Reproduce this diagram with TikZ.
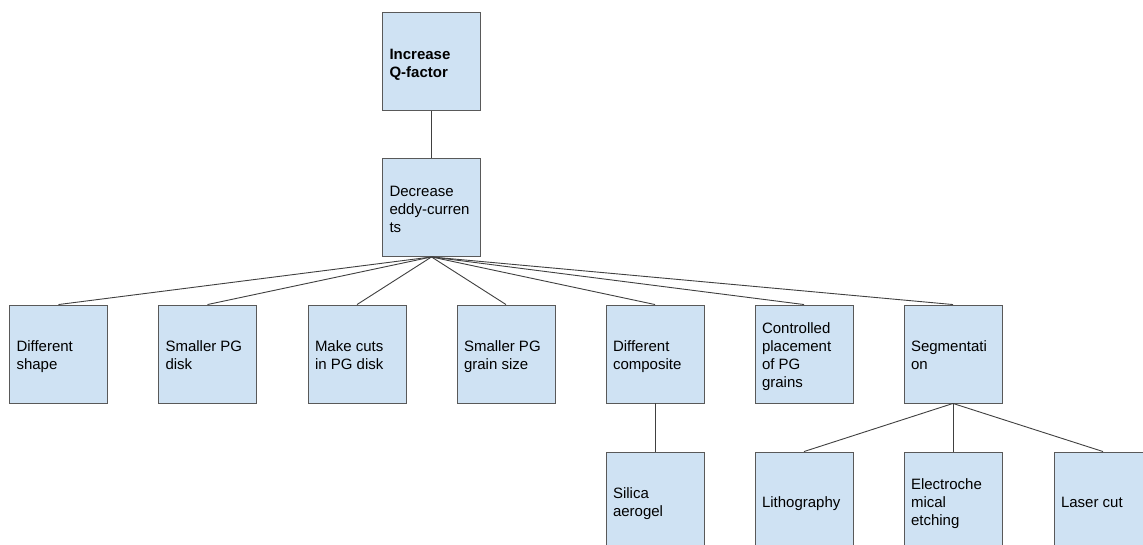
\documentclass[tikz,border=0pt]{standalone}
\usepackage{fontspec}
\setmainfont{Liberation Sans}
\definecolor{boxfill}{HTML}{CFE2F3}
\definecolor{boxline}{HTML}{595959}
\definecolor{edgeline}{HTML}{404040}
\newcommand\boxtext[1]{\raisebox{-3pt}[\height][\depth]{\parbox{84pt}{\raggedright\strut #1\strut}}}
\begin{document}
\begin{tikzpicture}[x=1pt,y=1pt,
  box/.style={draw=boxline,line width=0.9pt,fill=boxfill,rectangle,
    inner sep=7pt,minimum height=98pt,minimum width=98pt,
    font=\fontsize{15}{18}\selectfont,text=black},
  link/.style={draw=edgeline,line width=0.9pt}]
\clip (0,0) rectangle (1143,-545);
\fill[white] (0,0) rectangle (1143,-545);
\node[box] (top) at (431.5,-61.5) {\boxtext{\textbf{Increase\\Q-factor}}};
\node[box] (dec) at (431.5,-207.5) {\boxtext{Decrease\\eddy-curren\\ts}};
\node[box] (r1) at (58.5,-354) {\boxtext{Different\\shape}};
\node[box] (r2) at (207.5,-354) {\boxtext{Smaller PG\\disk}};
\node[box] (r3) at (357,-354) {\boxtext{Make cuts\\in PG disk}};
\node[box] (r4) at (506,-354) {\boxtext{Smaller PG\\grain size}};
\node[box] (r5) at (655,-354) {\boxtext{Different\\composite}};
\node[box] (r6) at (804,-354) {\boxtext{Controlled\\placement\\of PG\\grains}};
\node[box] (r7) at (953,-354) {\boxtext{Segmentati\\on}};
\node[box] (b1) at (655,-501) {\boxtext{Silica\\aerogel}};
\node[box] (b2) at (804,-501) {\boxtext{Lithography}};
\node[box] (b3) at (953,-501) {\boxtext{Electroche\\mical\\etching}};
\node[box] (b4) at (1103,-501) {\boxtext{Laser cut}};
\draw[link] (top.south) -- (dec.north);
\foreach \n in {r1,r2,r3,r4,r5,r6,r7} \draw[link] (dec.south) -- (\n.north);
\draw[link] (r5.south) -- (b1.north);
\foreach \n in {b2,b3,b4} \draw[link] (r7.south) -- (\n.north);
\end{tikzpicture}
\end{document}
